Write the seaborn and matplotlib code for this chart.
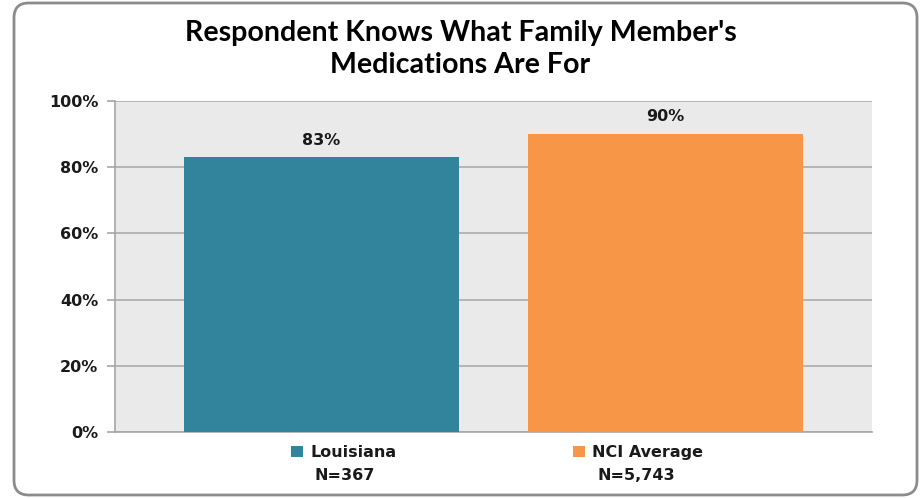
import matplotlib
matplotlib.use("Agg")
import matplotlib.pyplot as plt
import seaborn as sns
import pandas as pd
from matplotlib.patches import FancyBboxPatch, Rectangle
from matplotlib.ticker import PercentFormatter

categories = ["Louisiana", "NCI Average"]
values = [83, 90]
sample_sizes = ["N=367", "N=5,743"]
colors = ["#31849B", "#F79646"]
yticks = [0, 20, 40, 60, 80, 100]
title = "Respondent Knows What Family Member's\nMedications Are For"

df = pd.DataFrame({"group": categories, "pct": values})

sns.set_theme(style="white")
plt.rcParams["font.family"] = ["DejaVu Sans"]

W, H = 921, 498
fig = plt.figure(figsize=(W / 100, H / 100), dpi=100)
ax = fig.add_axes([115 / W, 66 / H, 757 / W, 331 / H])

sns.barplot(data=df, x="group", y="pct", hue="group", palette=colors,
            width=0.8, saturation=1, legend=False, ax=ax, zorder=3,
            linewidth=0, edgecolor="none")

ax.set_facecolor("#EAEAEA")
ax.set_xlim(-0.6, 1.6)
ax.set_ylim(0, 100)
ax.set_yticks(yticks)
ax.yaxis.set_major_formatter(PercentFormatter(decimals=0))
ax.set_xticks([])
ax.set_xlabel("")
ax.set_ylabel("")
ax.yaxis.grid(True, color="#ABABAB", linewidth=1.2, zorder=1)
ax.set_axisbelow(True)
for s in ["top", "right"]:
    ax.spines[s].set_visible(False)
for s in ["left", "bottom"]:
    ax.spines[s].set_color("#A6A6A6")
    ax.spines[s].set_linewidth(1.2)
ax.tick_params(axis="y", length=6, width=1.2, color="#A6A6A6", direction="out",
               pad=6, labelsize=11.5, left=True)
for lbl in ax.get_yticklabels():
    lbl.set_fontweight("bold")
    lbl.set_color("#1a1a1a")

for i, v in enumerate(values):
    ax.annotate(f"{v}%", (i, v), xytext=(0, 7), textcoords="offset points",
                ha="center", va="bottom", fontsize=11.5, fontweight="bold",
                color="#1a1a1a")

fig.text(0.5, 1 - 49 / H, title, ha="center", va="center", fontsize=20.6,
         fontweight="bold", family=["Lato", "DejaVu Sans"], linespacing=1.3,
         color="#000000")

# legend (manual) with sample sizes
sq_x = [291, 573]
txt_x = [310, 592]
n_cx = [345, 636]
for c, sx, tx, nx, name, n in zip(colors, sq_x, txt_x, n_cx, categories, sample_sizes):
    fig.patches.append(Rectangle((sx / W, 1 - 457 / H), 12 / W, 11 / H,
                                 transform=fig.transFigure, facecolor=c,
                                 edgecolor="none"))
    fig.text(tx / W, 1 - 452 / H, name, ha="left", va="center", fontsize=11.5,
             fontweight="bold", color="#1a1a1a")
    fig.text(nx / W, 1 - 475 / H, n, ha="center", va="center", fontsize=11.5,
             fontweight="bold", color="#1a1a1a")

frame = FancyBboxPatch((14 / W, 3 / H), 903 / W, 492 / H,
                       boxstyle="round,pad=0,rounding_size=0.016",
                       transform=fig.transFigure, facecolor="none",
                       edgecolor="#8C8C8C", linewidth=2, mutation_aspect=W / H)
fig.patches.append(frame)

fig.savefig("out.png", dpi=100, facecolor="white")
